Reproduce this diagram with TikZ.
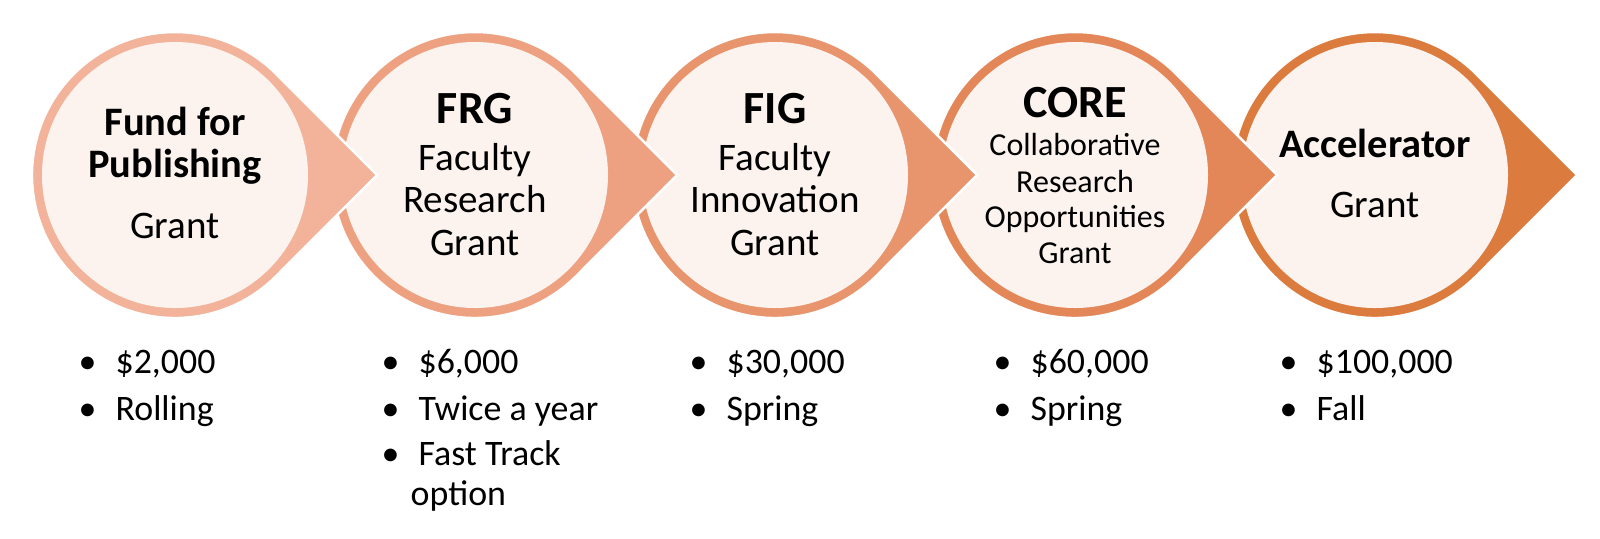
\documentclass[tikz,border=0pt]{standalone}
\usepackage{fontspec}
\setmainfont{Carlito}
\definecolor{ringA}{HTML}{F2B39A}
\definecolor{ringB}{HTML}{EDA180}
\definecolor{ringC}{HTML}{E8946C}
\definecolor{ringD}{HTML}{E38658}
\definecolor{ringE}{HTML}{DB7B3E}
\definecolor{drophole}{HTML}{FCF3EF}
\newcommand{\grantbullet}{\makebox[10.5pt][l]{\textbullet}}
\tikzset{
  drop/.style={draw=white,line width=0.7pt},
  hole/.style={fill=drophole},
  title/.style={anchor=base,inner sep=0pt,font=\fontsize{13.1}{15}\selectfont\bfseries},
  smalltitle/.style={anchor=base,inner sep=0pt,font=\fontsize{11.5}{14}\selectfont\bfseries},
  subline/.style={anchor=base,inner sep=0pt,font=\fontsize{11.1}{13}\selectfont},
  tinyline/.style={anchor=base,inner sep=0pt,font=\fontsize{9.1}{11}\selectfont},
  itemline/.style={anchor=base west,inner sep=0pt,font=\fontsize{10.2}{12}\selectfont}
}

\begin{document}
\begin{tikzpicture}[x=0.01cm,y=0.01cm]
\useasboundingbox (0,0) rectangle (1600,538);
% the five drops, drawn from the right so that each tip lies over the next ring
\foreach \cx/\col in {1375/ringE,1075/ringD,775/ringC,475/ringB,175/ringA}{
  \fill[drop,fill=\col] (\cx+202,363) -- (\cx+101.1,464.1)
    arc[start angle=45,end angle=315,radius=143] -- cycle;
  \fill[hole] (\cx,363) circle (133);
}
% texts in the drops
\node[smalltitle] (fundA) at (175,403) {Fund for};
\node[smalltitle] (fundB) at (175,361) {Publishing};
\node[subline]    (fundC) at (175,300) {Grant};
\node[title]   (frgA) at (475,415) {FRG};
\node[subline] (frgB) at (475,368) {Faculty};
\node[subline] (frgC) at (475,326) {Research};
\node[subline] (frgD) at (475,283) {Grant};
\node[title]   (figA) at (775,415) {FIG};
\node[subline] (figB) at (775,368) {Faculty};
\node[subline] (figC) at (775,326) {Innovation};
\node[subline] (figD) at (775,283) {Grant};
\node[title]    (coreA) at (1075,421) {CORE};
\node[tinyline] (coreB) at (1075,383) {Collaborative};
\node[tinyline] (coreC) at (1075,346) {Research};
\node[tinyline] (coreD) at (1075,311) {Opportunities};
\node[tinyline] (coreE) at (1075,275) {Grant};
\node[smalltitle] (accA) at (1375,381) {Accelerator};
\node[subline]    (accB) at (1375,321) {Grant};
% amounts and deadlines below
\node[itemline] (fundX) at (78,165)  {\grantbullet\$2,000};
\node[itemline] (fundY) at (78,118)  {\grantbullet Rolling};
\node[itemline] (frgX)  at (381,165) {\grantbullet\$6,000};
\node[itemline] (frgY)  at (381,118) {\grantbullet Twice a year};
\node[itemline] (frgZ)  at (381,73)  {\grantbullet Fast Track};
\node[itemline] (frgW)  at (410,33)  {option};
\node[itemline] (figX)  at (689,165) {\grantbullet\$30,000};
\node[itemline] (figY)  at (689,118) {\grantbullet Spring};
\node[itemline] (coreX) at (993,165) {\grantbullet\$60,000};
\node[itemline] (coreY) at (993,118) {\grantbullet Spring};
\node[itemline] (accX)  at (1279,165) {\grantbullet\$100,000};
\node[itemline] (accY)  at (1279,118) {\grantbullet Fall};
\end{tikzpicture}
\end{document}
